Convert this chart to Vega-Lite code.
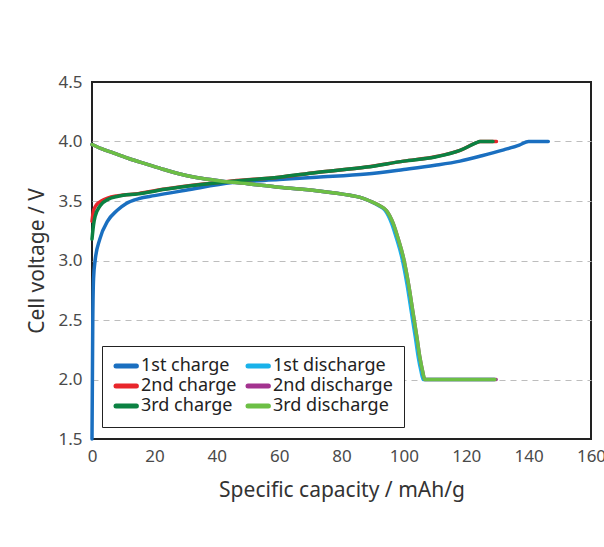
{
  "$schema": "https://vega.github.io/schema/vega-lite/v6.json",
  "width": 499,
  "height": 357,
  "autosize": {"type": "none"},
  "padding": {"left": 92, "top": 82, "right": 13, "bottom": 108},
  "background": "white",
  "config": {
    "view": {"stroke": "#222", "strokeWidth": 2},
    "font": "Noto Sans",
    "axis": {"labelFont": "Noto Sans", "titleFont": "Noto Sans", "labelFontSize": 17, "labelColor": "#4a4a4a", "titleFontSize": 21, "titleFontWeight": "normal", "titleColor": "#333"}
  },
  "data": {"values": [
    {"s": "1st charge", "c": 0, "v": 1.5},
    {"s": "1st charge", "c": 0.25, "v": 2.5},
    {"s": "1st charge", "c": 0.5, "v": 2.85},
    {"s": "1st charge", "c": 1, "v": 3.0},
    {"s": "1st charge", "c": 2.5, "v": 3.18},
    {"s": "1st charge", "c": 5, "v": 3.33},
    {"s": "1st charge", "c": 8, "v": 3.42},
    {"s": "1st charge", "c": 11, "v": 3.48},
    {"s": "1st charge", "c": 15, "v": 3.52},
    {"s": "1st charge", "c": 20, "v": 3.545},
    {"s": "1st charge", "c": 30, "v": 3.59},
    {"s": "1st charge", "c": 45, "v": 3.655},
    {"s": "1st charge", "c": 60, "v": 3.68},
    {"s": "1st charge", "c": 72, "v": 3.70},
    {"s": "1st charge", "c": 88, "v": 3.727},
    {"s": "1st charge", "c": 100, "v": 3.765},
    {"s": "1st charge", "c": 110, "v": 3.80},
    {"s": "1st charge", "c": 118, "v": 3.835},
    {"s": "1st charge", "c": 125, "v": 3.88},
    {"s": "1st charge", "c": 132, "v": 3.93},
    {"s": "1st charge", "c": 137, "v": 3.97},
    {"s": "1st charge", "c": 140, "v": 4.0},
    {"s": "1st charge", "c": 146.3, "v": 4.0},

    {"s": "1st discharge", "c": 0, "v": 3.975},
    {"s": "1st discharge", "c": 3, "v": 3.94},
    {"s": "1st discharge", "c": 6.8, "v": 3.905},
    {"s": "1st discharge", "c": 12, "v": 3.855},
    {"s": "1st discharge", "c": 17.5, "v": 3.81},
    {"s": "1st discharge", "c": 23, "v": 3.765},
    {"s": "1st discharge", "c": 28.2, "v": 3.727},
    {"s": "1st discharge", "c": 33, "v": 3.70},
    {"s": "1st discharge", "c": 38.9, "v": 3.677},
    {"s": "1st discharge", "c": 45, "v": 3.657},
    {"s": "1st discharge", "c": 50, "v": 3.645},
    {"s": "1st discharge", "c": 60, "v": 3.615},
    {"s": "1st discharge", "c": 72, "v": 3.587},
    {"s": "1st discharge", "c": 82.7, "v": 3.548},
    {"s": "1st discharge", "c": 86, "v": 3.53},
    {"s": "1st discharge", "c": 89, "v": 3.50},
    {"s": "1st discharge", "c": 92, "v": 3.46},
    {"s": "1st discharge", "c": 94, "v": 3.42},
    {"s": "1st discharge", "c": 96.1, "v": 3.31},
    {"s": "1st discharge", "c": 97.7, "v": 3.18},
    {"s": "1st discharge", "c": 99.3, "v": 3.03},
    {"s": "1st discharge", "c": 101, "v": 2.80},
    {"s": "1st discharge", "c": 102.5, "v": 2.55},
    {"s": "1st discharge", "c": 103.7, "v": 2.35},
    {"s": "1st discharge", "c": 104.6, "v": 2.19},
    {"s": "1st discharge", "c": 105.5, "v": 2.07},
    {"s": "1st discharge", "c": 106.2, "v": 2.0},
    {"s": "1st discharge", "c": 129.0, "v": 2.0},

    {"s": "2nd charge", "c": 0, "v": 3.33},
    {"s": "2nd charge", "c": 0.5, "v": 3.42},
    {"s": "2nd charge", "c": 1.5, "v": 3.47},
    {"s": "2nd charge", "c": 3, "v": 3.50},
    {"s": "2nd charge", "c": 5, "v": 3.525},
    {"s": "2nd charge", "c": 8.4, "v": 3.545},
    {"s": "2nd charge", "c": 14.8, "v": 3.562},
    {"s": "2nd charge", "c": 23.4, "v": 3.60},
    {"s": "2nd charge", "c": 35, "v": 3.64},
    {"s": "2nd charge", "c": 45, "v": 3.668},
    {"s": "2nd charge", "c": 60, "v": 3.70},
    {"s": "2nd charge", "c": 72, "v": 3.74},
    {"s": "2nd charge", "c": 88, "v": 3.785},
    {"s": "2nd charge", "c": 100, "v": 3.835},
    {"s": "2nd charge", "c": 110, "v": 3.872},
    {"s": "2nd charge", "c": 118, "v": 3.925},
    {"s": "2nd charge", "c": 123.3, "v": 3.99},
    {"s": "2nd charge", "c": 124.5, "v": 4.0},
    {"s": "2nd charge", "c": 129.7, "v": 4.0},

    {"s": "2nd discharge", "c": 0, "v": 3.975},
    {"s": "2nd discharge", "c": 3, "v": 3.94},
    {"s": "2nd discharge", "c": 6.8, "v": 3.905},
    {"s": "2nd discharge", "c": 12, "v": 3.855},
    {"s": "2nd discharge", "c": 17.5, "v": 3.81},
    {"s": "2nd discharge", "c": 23, "v": 3.765},
    {"s": "2nd discharge", "c": 28.2, "v": 3.727},
    {"s": "2nd discharge", "c": 33, "v": 3.70},
    {"s": "2nd discharge", "c": 38.9, "v": 3.677},
    {"s": "2nd discharge", "c": 45, "v": 3.657},
    {"s": "2nd discharge", "c": 50, "v": 3.645},
    {"s": "2nd discharge", "c": 60, "v": 3.615},
    {"s": "2nd discharge", "c": 72, "v": 3.587},
    {"s": "2nd discharge", "c": 82.7, "v": 3.548},
    {"s": "2nd discharge", "c": 86, "v": 3.53},
    {"s": "2nd discharge", "c": 89.1, "v": 3.50},
    {"s": "2nd discharge", "c": 92.3, "v": 3.46},
    {"s": "2nd discharge", "c": 94.4, "v": 3.42},
    {"s": "2nd discharge", "c": 96.6, "v": 3.31},
    {"s": "2nd discharge", "c": 98.2, "v": 3.18},
    {"s": "2nd discharge", "c": 99.8, "v": 3.03},
    {"s": "2nd discharge", "c": 101.5, "v": 2.80},
    {"s": "2nd discharge", "c": 103, "v": 2.55},
    {"s": "2nd discharge", "c": 104.2, "v": 2.35},
    {"s": "2nd discharge", "c": 105.1, "v": 2.19},
    {"s": "2nd discharge", "c": 106, "v": 2.07},
    {"s": "2nd discharge", "c": 106.7, "v": 2.0},
    {"s": "2nd discharge", "c": 129.6, "v": 2.0},

    {"s": "3rd charge", "c": 0, "v": 3.18},
    {"s": "3rd charge", "c": 0.5, "v": 3.30},
    {"s": "3rd charge", "c": 1, "v": 3.37},
    {"s": "3rd charge", "c": 2.6, "v": 3.46},
    {"s": "3rd charge", "c": 5.2, "v": 3.515},
    {"s": "3rd charge", "c": 8.4, "v": 3.54},
    {"s": "3rd charge", "c": 14.8, "v": 3.56},
    {"s": "3rd charge", "c": 23.4, "v": 3.598},
    {"s": "3rd charge", "c": 35, "v": 3.638},
    {"s": "3rd charge", "c": 45, "v": 3.666},
    {"s": "3rd charge", "c": 60, "v": 3.70},
    {"s": "3rd charge", "c": 72, "v": 3.74},
    {"s": "3rd charge", "c": 88, "v": 3.785},
    {"s": "3rd charge", "c": 100, "v": 3.835},
    {"s": "3rd charge", "c": 110, "v": 3.87},
    {"s": "3rd charge", "c": 118, "v": 3.925},
    {"s": "3rd charge", "c": 123.3, "v": 3.99},
    {"s": "3rd charge", "c": 124.3, "v": 4.0},
    {"s": "3rd charge", "c": 128.6, "v": 4.0},

    {"s": "3rd discharge", "c": 0, "v": 3.975},
    {"s": "3rd discharge", "c": 3, "v": 3.94},
    {"s": "3rd discharge", "c": 6.8, "v": 3.905},
    {"s": "3rd discharge", "c": 12, "v": 3.855},
    {"s": "3rd discharge", "c": 17.5, "v": 3.81},
    {"s": "3rd discharge", "c": 23, "v": 3.765},
    {"s": "3rd discharge", "c": 28.2, "v": 3.727},
    {"s": "3rd discharge", "c": 33, "v": 3.70},
    {"s": "3rd discharge", "c": 38.9, "v": 3.677},
    {"s": "3rd discharge", "c": 45, "v": 3.657},
    {"s": "3rd discharge", "c": 50, "v": 3.645},
    {"s": "3rd discharge", "c": 60, "v": 3.615},
    {"s": "3rd discharge", "c": 72, "v": 3.587},
    {"s": "3rd discharge", "c": 82.7, "v": 3.548},
    {"s": "3rd discharge", "c": 86, "v": 3.53},
    {"s": "3rd discharge", "c": 89.1, "v": 3.50},
    {"s": "3rd discharge", "c": 92.3, "v": 3.46},
    {"s": "3rd discharge", "c": 94.4, "v": 3.42},
    {"s": "3rd discharge", "c": 96.6, "v": 3.31},
    {"s": "3rd discharge", "c": 98.2, "v": 3.18},
    {"s": "3rd discharge", "c": 99.8, "v": 3.03},
    {"s": "3rd discharge", "c": 101.5, "v": 2.80},
    {"s": "3rd discharge", "c": 103, "v": 2.55},
    {"s": "3rd discharge", "c": 104.2, "v": 2.35},
    {"s": "3rd discharge", "c": 105.1, "v": 2.19},
    {"s": "3rd discharge", "c": 106, "v": 2.07},
    {"s": "3rd discharge", "c": 106.7, "v": 2.0},
    {"s": "3rd discharge", "c": 129.2, "v": 2.0}
  ]},
  "mark": {"type": "line", "strokeWidth": 3.5, "strokeCap": "round", "strokeJoin": "round", "interpolate": "monotone", "clip": false},
  "encoding": {
    "x": {"field": "c", "type": "quantitative", "scale": {"domain": [0, 160], "nice": false},
      "axis": {"values": [0, 10, 20, 30, 40, 50, 60, 70, 80, 90, 100, 110, 120, 130, 140, 150, 160],
        "labelExpr": "datum.value % 20 === 0 ? datum.label : ''", "labelFlush": false,
        "ticks": true, "tickColor": "#222", "tickWidth": 1.5, "tickSize": 0,
        "encode": {"ticks": {"update": {"y2": {"signal": "datum.value % 20 === 0 ? -7 : -4.5"}}}},
        "domain": false, "grid": false, "labelPadding": 9, "title": "Specific capacity / mAh/g", "titlePadding": 15}},
    "y": {"field": "v", "type": "quantitative", "scale": {"domain": [1.5, 4.5], "nice": false, "zero": false},
      "axis": {"values": [1.5, 2.0, 2.5, 3.0, 3.5, 4.0, 4.5], "format": ".1f", "ticks": false, "domain": false, "labelPadding": 10, "title": "Cell voltage / V", "titlePadding": 10,
        "grid": true, "gridColor": "#bdbdbd", "gridDash": [6, 5], "gridWidth": 1.2,
        "gridOpacity": {"condition": {"test": "datum.value <= 1.5 || datum.value >= 4.5", "value": 0}, "value": 1}}},
    "color": {"field": "s", "type": "nominal",
      "scale": {"domain": ["1st charge", "2nd charge", "3rd charge", "1st discharge", "2nd discharge", "3rd discharge"],
        "range": ["#1a6fc0", "#e8262b", "#0b8142", "#19b2ea", "#a3338f", "#6cbf45"]},
      "legend": {"title": null, "orient": "none", "legendX": 10, "legendY": 264, "columns": 2,
        "symbolType": "M-1,0H2.4", "symbolSize": 144, "symbolStrokeWidth": 5, "labelFontSize": 18, "labelColor": "#222", "labelFont": "Noto Sans",
        "labelOffset": 10, "columnPadding": 1, "rowPadding": 0, "padding": 11, "strokeColor": "#222", "fillColor": "white",
        "encode": {"symbols": {"update": {"strokeCap": {"value": "round"}}}}}}
  }
}
